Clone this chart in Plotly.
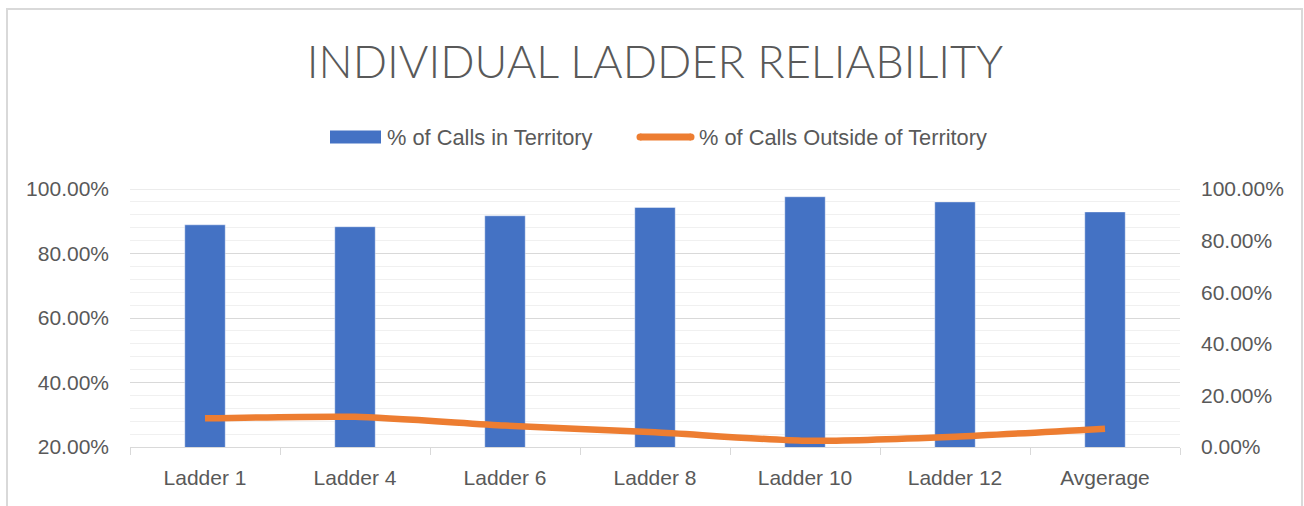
import plotly.graph_objects as go

# Chart data
categories = ["Ladder 1", "Ladder 4", "Ladder 6", "Ladder 8", "Ladder 10", "Ladder 12", "Avgerage"]
pct_in_territory = [88.9, 88.3, 91.7, 94.3, 97.6, 96.0, 92.9]
pct_outside_territory = [11.1, 11.7, 8.3, 5.7, 2.4, 4.0, 7.1]
left_ticks = [20, 40, 60, 80, 100]
right_ticks = [0, 20, 40, 60, 80, 100]
series_names = ["% of Calls in Territory", "% of Calls Outside of Territory"]

FONT = "Liberation Sans"
GREY = "#595959"
BLUE = "#4472C4"
ORANGE = "#ED7D31"
GRID = "#D9D9D9"

# plot area in pixels
PL, PR, PT, PB = 130, 1180, 189, 447


def px(x):
    return (x - PL) / (PR - PL)


def py(y):
    return (PB - y) / (PB - PT)


fig = go.Figure()

fig.add_trace(go.Bar(
    x=categories,
    y=pct_in_territory,
    name=series_names[0],
    marker=dict(color=BLUE, line=dict(color="rgba(255,255,255,0.45)", width=1)),
    yaxis="y",
    showlegend=False,
))

fig.add_trace(go.Scatter(
    x=categories,
    y=pct_outside_territory,
    name=series_names[1],
    mode="lines",
    line=dict(color=ORANGE, width=6.5, shape="spline", smoothing=0.6),
    yaxis="y2",
    showlegend=False,
))

# legend drawn as swatches + labels
legend_y = py(137)
shapes = [
    # outer chart border
    dict(type="rect", xref="paper", yref="paper",
         x0=px(7), x1=px(1302), y0=py(520), y1=py(9),
         line=dict(color=GRID, width=2), fillcolor="rgba(0,0,0,0)", layer="below"),
    # top major gridline at 100%
    dict(type="line", xref="paper", yref="y", x0=0, x1=1, y0=100, y1=100,
         line=dict(color=GRID, width=1), layer="below"),
    # bar swatch
    dict(type="rect", xref="paper", yref="paper",
         x0=px(330), x1=px(381), y0=py(143.5), y1=py(130.5),
         line=dict(width=0), fillcolor=BLUE),
    # line swatch
    dict(type="line", xref="paper", yref="paper",
         x0=px(640), x1=px(691), y0=legend_y, y1=legend_y,
         line=dict(color=ORANGE, width=7)),
]
for cx in (640, 691):
    shapes.append(dict(type="circle", xref="paper", yref="paper",
                       xsizemode="pixel", ysizemode="pixel",
                       xanchor=px(cx), yanchor=legend_y,
                       x0=-3.5, x1=3.5, y0=-3.5, y1=3.5,
                       line=dict(width=0), fillcolor=ORANGE))

annotations = [
    dict(text=series_names[0], xref="paper", yref="paper", x=px(385), y=legend_y,
         xanchor="left", yanchor="middle", showarrow=False,
         font=dict(family=FONT, size=21.8, color=GREY)),
    dict(text=series_names[1], xref="paper", yref="paper", x=px(697), y=legend_y,
         xanchor="left", yanchor="middle", showarrow=False,
         font=dict(family=FONT, size=21.8, color=GREY)),
]

fig.update_layout(
    width=1304,
    height=506,
    margin=dict(l=PL, r=1304 - PR, t=PT, b=506 - PB),
    paper_bgcolor="white",
    plot_bgcolor="white",
    bargap=0.73,
    font=dict(family=FONT, color=GREY),
    showlegend=False,
    title=dict(
        text="INDIVIDUAL LADDER RELIABILITY",
        x=0.5, xref="paper", xanchor="center",
        y=1 - 62 / 506, yref="container", yanchor="middle",
        font=dict(family="Lato", size=45.2, color=GREY, weight=300),
    ),
    xaxis=dict(
        type="category",
        showline=True, linecolor=GRID, linewidth=1,
        ticks="outside", tickson="boundaries", ticklen=7, tickcolor=GRID,
        showgrid=False,
        ticklabelstandoff=12,
        tickfont=dict(size=21, color=GREY),
    ),
    yaxis=dict(
        range=[20, 100],
        tickvals=left_ticks,
        ticktext=[f"{v:.2f}%" for v in left_ticks],
        showgrid=True, gridcolor=GRID, gridwidth=1,
        minor=dict(dtick=4, showgrid=True, gridcolor="#F0F0F0", gridwidth=1),
        zeroline=False,
        showline=False,
        ticks="",
        ticklabelstandoff=20,
        tickfont=dict(size=21, color=GREY),
    ),
    yaxis2=dict(
        range=[0, 100],
        overlaying="y",
        side="right",
        tickvals=right_ticks,
        ticktext=[f"{v:.2f}%" for v in right_ticks],
        showgrid=False,
        zeroline=False,
        showline=False,
        ticks="",
        ticklabelstandoff=20,
        tickfont=dict(size=21, color=GREY),
    ),
    shapes=shapes,
    annotations=annotations,
)

fig.write_html("out.html")
